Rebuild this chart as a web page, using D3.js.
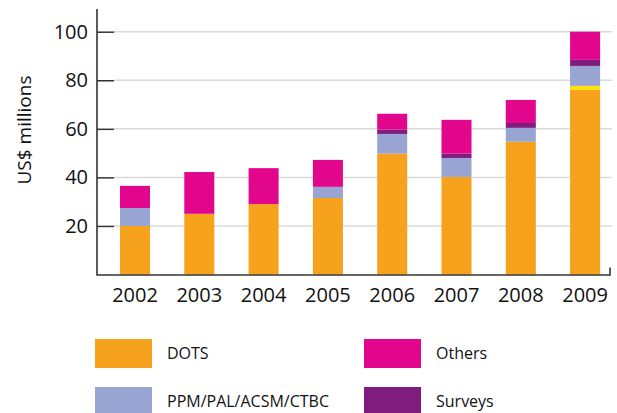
<!DOCTYPE html>
<html>
<head>
<meta charset="utf-8">
<script src="https://cdn.jsdelivr.net/npm/d3@7"></script>
<style>
  html, body { margin: 0; padding: 0; background: #fff; }
  svg { display: block; font-family: "Open Sans", "Noto Sans", sans-serif; }
</style>
</head>
<body>
<svg id="chart" width="617" height="413"></svg>
<script>
const years = ["2002", "2003", "2004", "2005", "2006", "2007", "2008", "2009"];
const dots = [20, 25, 29, 31.5, 49.8, 40.2, 54.7, 76.1];
const extra = [0, 0, 0, 0, 0, 0, 0, 1.6];
const ppm = [7.4, 0, 0, 4.6, 8.1, 7.8, 5.7, 8.2];
const surveys = [0, 0, 0, 0, 1.8, 1.8, 2.0, 2.5];
const others = [9.1, 17.2, 14.8, 11.1, 6.5, 13.9, 9.5, 11.6];
const yTicks = [20, 40, 60, 80, 100];

const seriesDefs = [
  { key: "DOTS", values: dots, color: "#F7A21D", legend: true },
  { key: "Extra", values: extra, color: "#FFE100", legend: false },
  { key: "PPM/PAL/ACSM/CTBC", values: ppm, color: "#98A4D1", legend: true },
  { key: "Surveys", values: surveys, color: "#7F1D7E", legend: true },
  { key: "Others", values: others, color: "#E2068C", legend: true }
];

const rows = years.map((y, i) => {
  const r = { year: y };
  seriesDefs.forEach(s => { r[s.key] = s.values[i]; });
  return r;
});
const stack = d3.stack().keys(seriesDefs.map(s => s.key));
const stacked = stack(rows);

const svg = d3.select("#chart");
const axisX = 97, baseY = 274.5, topY = 9;

const x = d3.scaleBand().domain(years).range([102.85, 617.25])
  .paddingInner(0.533).paddingOuter(0.2665).align(0.5);
const y = d3.scaleLinear().domain([0, 100]).range([baseY, 31.7]);

// gridlines
svg.append("g").selectAll("line").data(yTicks).join("line")
  .attr("x1", 114).attr("x2", 612)
  .attr("y1", d => y(d)).attr("y2", d => y(d))
  .attr("stroke", "#d9d9d9").attr("stroke-width", 1.5);

// bars
const gBars = svg.append("g");
stacked.forEach((layer, li) => {
  gBars.append("g").attr("fill", seriesDefs[li].color)
    .selectAll("rect").data(layer.filter(d => d[1] - d[0] > 0)).join("rect")
    .attr("x", d => x(d.data.year))
    .attr("width", x.bandwidth())
    .attr("y", d => y(d[1]))
    .attr("height", d => y(d[0]) - y(d[1]));
});

// y axis
const yAxis = d3.axisLeft(y).tickValues(yTicks).tickSize(0).tickPadding(9);
const gy = svg.append("g").attr("transform", `translate(${axisX},0)`).call(yAxis);
gy.select(".domain").remove();
gy.selectAll("text").attr("font-size", 20).attr("fill", "#111")
  .attr("font-family", "'Open Sans', sans-serif");
gy.selectAll(".tick").append("line")
  .attr("x1", 0).attr("x2", 17).attr("stroke", "#333").attr("stroke-width", 1.5);

// axis lines
svg.append("path")
  .attr("d", `M${axisX},${topY}V${baseY + 0.5}H610V${baseY - 7}`)
  .attr("fill", "none").attr("stroke", "#333").attr("stroke-width", 1.6);

// x axis labels
const xAxis = d3.axisBottom(x).tickSize(0).tickPadding(13);
const gx = svg.append("g").attr("transform", `translate(0,${baseY})`).call(xAxis);
gx.select(".domain").remove();
gx.selectAll("text").attr("font-size", 20).attr("fill", "#111")
  .attr("font-family", "'Open Sans', sans-serif");

// y title
svg.append("text")
  .attr("transform", "translate(31,130) rotate(-90)")
  .attr("text-anchor", "middle")
  .attr("font-size", 19).attr("fill", "#111")
  .text("US$ millions");

// legend
const legendItems = seriesDefs.filter(s => s.legend);
const legendPos = {
  "DOTS": [95, 339],
  "Others": [364, 339],
  "PPM/PAL/ACSM/CTBC": [95, 387],
  "Surveys": [364, 387]
};
const lg = svg.append("g").selectAll("g").data(legendItems).join("g")
  .attr("transform", d => `translate(${legendPos[d.key][0]},${legendPos[d.key][1]})`);
lg.append("rect").attr("width", 57).attr("height", 29).attr("fill", d => d.color);
lg.append("text").attr("x", 72).attr("y", 14.5).attr("dy", "0.35em")
  .attr("font-size", 16).attr("fill", "#111").text(d => d.key);
</script>
</body>
</html>
